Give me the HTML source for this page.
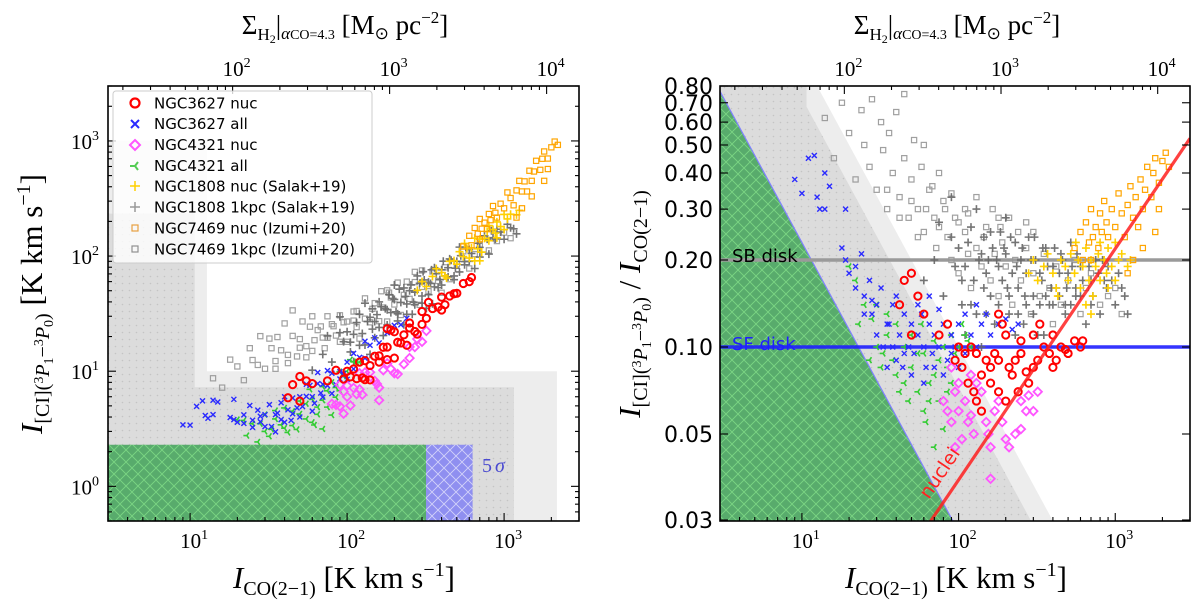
<!DOCTYPE html>
<html><head><meta charset="utf-8">
<style>
html,body{margin:0;padding:0;background:#fff;overflow:hidden;width:1200px;height:607px;}
svg{display:block;overflow:hidden;}
text{font-family:"Liberation Serif",serif;fill:#000;}
.sans{font-family:"DejaVu Sans","Liberation Sans",sans-serif;}
</style></head>
<body>
<svg id="fig" width="1200" height="607" viewBox="0 0 1200 607" xmlns="http://www.w3.org/2000/svg">
<defs>
<pattern id="hatchG" width="12" height="12" patternUnits="userSpaceOnUse">
<path d="M0,0 L12,12 M12,0 L0,12" stroke="#86e38a" stroke-width="0.9" opacity="0.75"/>
</pattern>
<pattern id="hatchB" width="12" height="12" patternUnits="userSpaceOnUse">
<path d="M0,0 L12,12 M12,0 L0,12" stroke="#ffffff" stroke-width="0.9" opacity="0.6"/>
</pattern>
<pattern id="dots" width="7" height="7" patternUnits="userSpaceOnUse">
<circle cx="3.5" cy="3.5" r="0.8" fill="#c4c4c4"/>
</pattern>
<clipPath id="clipL"><rect x="108" y="86" width="471" height="435"/></clipPath>
<clipPath id="clipR"><rect x="720" y="86" width="470" height="435"/></clipPath>
</defs>
<g id="layer"></g>

<g>
<text x="482" y="472" font-size="20" style="fill:#4a4ad0">5<tspan font-style="italic" dx="3">σ</tspan></text>
<text class="sans" x="732" y="262" font-size="18">SB disk</text>
<text class="sans" x="732" y="350" font-size="18" style="fill:#1f1fff">SF disk</text>
<text class="sans" font-size="19" transform="translate(929,500) rotate(-56)" style="fill:#ff2020">nuclei</text>
</g>

<g>
<rect x="113" y="91" width="259" height="172" rx="3" fill="#fff" fill-opacity="0.8" stroke="#cccccc"/>
<g><circle cx="135" cy="103" r="4.5" fill="none" stroke="#ff0000" stroke-width="2.2"/><text class="sans" x="154" y="108.5" font-size="15">NGC3627 nuc</text></g>
<g><path d="M131,120 L139,128 M139,120 L131,128" stroke="#2a2aff" stroke-width="2"/><text class="sans" x="154" y="129" font-size="15">NGC3627 all</text></g>
<g><path d="M135,140 L140,145 L135,150 L130,145 Z" fill="none" stroke="#ff55ff" stroke-width="2"/><text class="sans" x="154" y="150" font-size="15">NGC4321 nuc</text></g>
<g><path d="M135,166 L130,166 M135,166 L138,162 M135,166 L138,170" stroke="#55cc55" stroke-width="2"/><text class="sans" x="154" y="171" font-size="15">NGC4321 all</text></g>
<g><path d="M130,186 L140,186 M135,181 L135,191" stroke="#ffd000" stroke-width="1.5"/><text class="sans" x="154" y="191.5" font-size="15">NGC1808 nuc (Salak+19)</text></g>
<g><path d="M130,207 L140,207 M135,202 L135,212" stroke="#999" stroke-width="1.5"/><text class="sans" x="154" y="212.5" font-size="15">NGC1808 1kpc (Salak+19)</text></g>
<g><rect x="132" y="225" width="6" height="6" fill="none" stroke="#e8a040" stroke-width="1.2"/><text class="sans" x="154" y="233.5" font-size="15">NGC7469 nuc (Izumi+20)</text></g>
<g><rect x="132" y="246" width="6" height="6" fill="none" stroke="#909090" stroke-width="1.2"/><text class="sans" x="154" y="254.5" font-size="15">NGC7469 1kpc (Izumi+20)</text></g>
</g>

<g>
<text x="345" y="34" font-size="27" text-anchor="middle">Σ<tspan font-size="17" dy="6">H</tspan><tspan font-size="12" dy="3">2</tspan><tspan dy="-9">|</tspan><tspan font-size="17" font-style="italic" dy="5">α</tspan><tspan font-size="14">CO=4.3</tspan><tspan dy="-5"> [M</tspan><tspan font-size="17" dy="5">⊙</tspan><tspan dy="-5"> pc</tspan><tspan font-size="17" dy="-11">−2</tspan><tspan dy="11">]</tspan></text>
<text x="957" y="34" font-size="27" text-anchor="middle">Σ<tspan font-size="17" dy="6">H</tspan><tspan font-size="12" dy="3">2</tspan><tspan dy="-9">|</tspan><tspan font-size="17" font-style="italic" dy="5">α</tspan><tspan font-size="14">CO=4.3</tspan><tspan dy="-5"> [M</tspan><tspan font-size="17" dy="5">⊙</tspan><tspan dy="-5"> pc</tspan><tspan font-size="17" dy="-11">−2</tspan><tspan dy="11">]</tspan></text>
<text x="344" y="588" font-size="31" text-anchor="middle"><tspan font-style="italic">I</tspan><tspan font-size="20" dy="7">CO(2−1)</tspan><tspan dy="-7"> [K km s</tspan><tspan font-size="20" dy="-12">−1</tspan><tspan dy="12">]</tspan></text>
<text x="956" y="588" font-size="31" text-anchor="middle"><tspan font-style="italic">I</tspan><tspan font-size="20" dy="7">CO(2−1)</tspan><tspan dy="-7"> [K km s</tspan><tspan font-size="20" dy="-12">−1</tspan><tspan dy="12">]</tspan></text>
<text font-size="31" text-anchor="middle" transform="translate(42,304) rotate(-90)"><tspan font-style="italic">I</tspan><tspan font-size="20" dy="7">[CI](</tspan><tspan font-size="14" dy="-6">3</tspan><tspan font-size="20" font-style="italic" dy="6">P</tspan><tspan font-size="14" dy="4">1</tspan><tspan font-size="20" dy="-4">−</tspan><tspan font-size="14" dy="-6">3</tspan><tspan font-size="20" font-style="italic" dy="6">P</tspan><tspan font-size="14" dy="4">0</tspan><tspan font-size="20" dy="-4">)</tspan><tspan dy="-7"> [K km s</tspan><tspan font-size="20" dy="-12">−1</tspan><tspan dy="12">]</tspan></text>
<text font-size="31" text-anchor="middle" transform="translate(640,304) rotate(-90)"><tspan font-style="italic">I</tspan><tspan font-size="20" dy="7">[CI](</tspan><tspan font-size="14" dy="-6">3</tspan><tspan font-size="20" font-style="italic" dy="6">P</tspan><tspan font-size="14" dy="4">1</tspan><tspan font-size="20" dy="-4">−</tspan><tspan font-size="14" dy="-6">3</tspan><tspan font-size="20" font-style="italic" dy="6">P</tspan><tspan font-size="14" dy="4">0</tspan><tspan font-size="20" dy="-4">)</tspan><tspan dy="-7">  /  </tspan><tspan font-style="italic">I</tspan><tspan font-size="20" dy="7">CO(2−1)</tspan></text>
</g>
</svg>
<script>
// ---------- data (CO intensity [K km/s], CI/CO ratio) ----------
const n3627nucCO=[45,50,55,42,60,75,50,85,100,110,95,120,130,105,115,125,140,150,160,170,180,190,200,210,220,230,250,270,280,300,320,350,380,400,420,450,480,500,550,600,620,180,200,240,300,330,250,140,130,160,400,180];
const n3627nucR=[0.17,0.18,0.15,0.14,0.13,0.11,0.11,0.12,0.1,0.095,0.09,0.1,0.095,0.085,0.075,0.07,0.08,0.09,0.085,0.095,0.09,0.12,0.11,0.085,0.08,0.09,0.095,0.082,0.075,0.085,0.09,0.1,0.095,0.085,0.09,0.1,0.098,0.095,0.105,0.1,0.105,0.07,0.065,0.07,0.11,0.12,0.105,0.06,0.065,0.075,0.11,0.13];
const n3627allCO=[9,11,12,10,12.5,13,14,15,14,19,18,19,22,24,20,22,25,27,30,32,28,35,38,40,30,33,36,42,45,48,50,40,44,52,55,58,60,62,65,68,70,75,80,85,90,95,100,110,120,130,140,150,160,180,200,220,240,35,50,60,45,38,70,80,90,100,25,28,55,65,110,130,75];
const n3627allR=[0.38,0.45,0.46,0.34,0.33,0.3,0.4,0.36,0.3,0.3,0.22,0.2,0.19,0.21,0.18,0.16,0.15,0.17,0.14,0.16,0.13,0.12,0.14,0.15,0.11,0.1,0.12,0.11,0.13,0.1,0.12,0.09,0.085,0.095,0.11,0.13,0.1,0.085,0.12,0.095,0.11,0.1,0.12,0.09,0.11,0.1,0.12,0.095,0.11,0.1,0.12,0.13,0.11,0.12,0.125,0.115,0.12,0.085,0.08,0.075,0.095,0.1,0.085,0.08,0.095,0.085,0.13,0.145,0.14,0.15,0.13,0.14,0.135];
const n4321nucCO=[80,85,90,95,100,100,110,115,120,125,105,95,130,140,150,155,160,170,180,190,200,210,230,250,270,280,300,320,250,160,120,90];
const n4321nucR=[0.065,0.06,0.055,0.07,0.075,0.06,0.065,0.055,0.058,0.05,0.048,0.045,0.075,0.07,0.055,0.05,0.045,0.06,0.065,0.055,0.048,0.045,0.05,0.052,0.06,0.068,0.06,0.07,0.065,0.035,0.08,0.085];
const n4321allCO=[20,22,25,23,28,30,27,32,35,38,40,42,45,48,50,55,60,62,65,70,75,80,85,90,95,100,105,110,115,120,60,70,50,40,35,45,55,65,75,80,70,85,30,33,58,90];
const n4321allR=[0.19,0.17,0.14,0.12,0.125,0.1,0.09,0.085,0.11,0.09,0.08,0.07,0.075,0.065,0.085,0.07,0.06,0.055,0.075,0.08,0.09,0.1,0.085,0.11,0.095,0.1,0.12,0.11,0.105,0.1,0.095,0.105,0.11,0.12,0.13,0.1,0.095,0.065,0.065,0.052,0.045,0.07,0.14,0.095,0.12,0.075];
const n1808nucCO=[280,300,320,350,370,400,420,450,480,500,520,550,580,600,620,650,680,700,720,750,780,800,850,880,900,950,1000,1050,1100,1200,1250,650,700,430,560,800,900,1000];
const n1808nucR=[0.18,0.2,0.17,0.19,0.21,0.18,0.16,0.2,0.19,0.17,0.21,0.18,0.2,0.16,0.19,0.22,0.17,0.2,0.15,0.19,0.21,0.17,0.2,0.18,0.22,0.19,0.17,0.2,0.21,0.19,0.2,0.14,0.13,0.15,0.23,0.23,0.16,0.23];
const n1808kpcCO=[60,70,80,90,100,105,110,120,125,130,140,145,150,155,160,165,170,180,185,190,200,210,220,230,240,250,260,270,280,300,310,320,340,360,380,400,420,450,480,500,520,560,600,650,700,750,800,850,900,1000,1100,1200,130,90,75,140,230,350,200,110,
 95,105,115,135,145,160,175,195,205,215,235,255,265,290,305,330,345,370,390,410,440,460,490,530,570,620,680,720,780,830,880,950,1050,1150,120,150,180,210,240,270,300,330,360,400,440,480,520,560,600,700];
const n1808kpcR=[0.17,0.2,0.15,0.24,0.22,0.14,0.19,0.26,0.17,0.13,0.21,0.24,0.18,0.2,0.15,0.22,0.12,0.19,0.25,0.17,0.21,0.13,0.18,0.23,0.16,0.2,0.12,0.18,0.24,0.15,0.2,0.11,0.17,0.22,0.14,0.19,0.16,0.21,0.13,0.18,0.23,0.15,0.19,0.12,0.17,0.2,0.13,0.17,0.19,0.14,0.16,0.13,0.3,0.33,0.27,0.1,0.11,0.11,0.28,0.11,
 0.19,0.17,0.23,0.2,0.16,0.25,0.2,0.22,0.16,0.24,0.19,0.22,0.15,0.2,0.24,0.18,0.22,0.19,0.16,0.22,0.18,0.2,0.16,0.19,0.21,0.17,0.19,0.15,0.18,0.2,0.16,0.17,0.18,0.15,0.14,0.13,0.14,0.15,0.13,0.14,0.13,0.14,0.15,0.14,0.15,0.14,0.14,0.16,0.15,0.14];
const n7469nucCO=[550,600,620,650,680,700,720,750,780,800,820,850,880,900,950,1000,1050,1100,1150,1200,1250,1300,1350,1400,1450,1500,1550,1600,1700,1750,1800,1900,2000,2100,2200,1300,1500,1800,1900,1200,700];
const n7469nucR=[0.22,0.25,0.2,0.27,0.23,0.3,0.24,0.26,0.22,0.29,0.25,0.32,0.27,0.24,0.3,0.26,0.34,0.29,0.24,0.31,0.36,0.28,0.33,0.26,0.38,0.3,0.35,0.42,0.33,0.4,0.45,0.37,0.44,0.47,0.42,0.2,0.22,0.25,0.3,0.18,0.2];
const n7469kpcCO=[14,16,18,20,22,24,25,27,28,30,32,33,35,36,38,40,42,45,48,50,52,55,58,60,65,70,72,80,85,90,95,100,110,115,120,130,140,150,160,170,180,190,200,220,230,250,270,290,300,330,350,380,400,420,450,500,550,600,650,700,800,900,1000,1100,60,75,45,110,180,300,
 35,42,50,55,62,68,75,82,90,100,115,130,145,165,185,210,240,270];
const n7469kpcR=[0.62,0.45,0.7,0.55,0.38,0.66,0.5,0.42,0.72,0.35,0.6,0.48,0.3,0.55,0.4,0.65,0.33,0.45,0.28,0.38,0.52,0.3,0.42,0.25,0.35,0.28,0.22,0.32,0.24,0.2,0.28,0.18,0.25,0.21,0.16,0.22,0.19,0.26,0.17,0.21,0.15,0.23,0.19,0.14,0.2,0.17,0.22,0.13,0.18,0.15,0.21,0.16,0.12,0.19,0.14,0.17,0.2,0.13,0.16,0.18,0.14,0.15,0.16,0.13,0.5,0.4,0.75,0.3,0.28,0.25,
 0.35,0.28,0.32,0.24,0.3,0.36,0.26,0.3,0.34,0.27,0.29,0.33,0.24,0.3,0.26,0.28,0.25,0.27];
const lightRegions=[[1,2170,10],[1,12.8,1000]];
const darkRegions=[[1,1156,7.26],[1,10.7,234]];
const greenRegion=[1,318,2.3];
const blueRegion=[318,630,2.3];
const sbDiskRatio=0.2, sfDiskRatio=0.1;
const nucleiNorm=0.527, nucleiPivot=3000, nucleiSlope=0.8;
const xMajor=[10,100,1000];
const xMajorLabels=["1","2","3"];
const yLMajor=[1,10,100,1000];
const yLMajorLabels=["0","1","2","3"];
const sigmaMajor=[100,1000,10000];
const sigmaLabels=["2","3","4"];
const sigmaPerCO=5.36;
const yRMajor=[0.8,0.7,0.6,0.5,0.4,0.3,0.2,0.1,0.05,0.0252];
const yRLabels=["0.80","0.70","0.60","0.50","0.40","0.30","0.20","0.10","0.05","0.03"];

const CO_MIN=3,CO_MAX=3000,CI_MIN=0.5,CI_MAX=3000,R_MIN=0.025,R_MAX=0.8;
const PL={x0:108,x1:579,y0:86,y1:521}, PR={x0:720,x1:1190,y0:86,y1:521};
const L10=Math.log10;
function sx(p,x){return p.x0+(L10(x)-L10(CO_MIN))/L10(CO_MAX/CO_MIN)*(p.x1-p.x0);}
function syL(v){return PL.y0+(L10(CI_MAX)-L10(v))/L10(CI_MAX/CI_MIN)*(PL.y1-PL.y0);}
function syR(v){return PR.y0+(L10(R_MAX)-L10(v))/L10(R_MAX/R_MIN)*(PR.y1-PR.y0);}

const NS="http://www.w3.org/2000/svg";
const layer=document.getElementById('layer');
function mk(tag,attrs,parent){const e=document.createElementNS(NS,tag);for(const k in attrs)e.setAttribute(k,attrs[k]);(parent||layer).appendChild(e);return e;}

const gL=mk('g',{'clip-path':'url(#clipL)'});


const gR=mk('g',{'clip-path':'url(#clipR)'});



function regionPts(panel,reg){
  const [x0,x1,yt]=reg, yb=0.001;
  if(panel==='L'){
    return [[sx(PL,x0),syL(yb)],[sx(PL,x0),syL(yt)],[sx(PL,x1),syL(yt)],[sx(PL,x1),syL(yb)]];
  }
  return [[sx(PR,x0),syR(yb/x0)],[sx(PR,x0),syR(yt/x0)],[sx(PR,x1),syR(yt/x1)],[sx(PR,x1),syR(yb/x1)]];
}
function drawRegion(panel,reg,fill,overlay,name){
  const g=panel==='L'?gL:gR;
  const pts=regionPts(panel,reg).map(p=>p[0].toFixed(1)+','+p[1].toFixed(1)).join(' ');
  const e=mk('polygon',{points:pts,fill:fill},g);
  
  
  if(overlay){
    const o=mk('polygon',{points:pts,fill:overlay},g);
    
    
  }
}
['L','R'].forEach(pn=>{
  lightRegions.forEach(r=>drawRegion(pn,r,'#ededed',null,'light-gray-limit-region'));
  darkRegions.forEach(r=>drawRegion(pn,r,'#dcdcdc','url(#dots)','gray-limit-region'));
  drawRegion(pn,blueRegion,'#8f8ff0','url(#hatchB)','blue-5sigma-region');
  drawRegion(pn,greenRegion,'#58ab6c','url(#hatchG)','green-5sigma-region');
});
(function(){
  const x0=CO_MIN, x1=greenRegion[1];
  const e=mk('line',{x1:sx(PR,x0),y1:syR(greenRegion[2]/x0),x2:sx(PR,x1),y2:syR(greenRegion[2]/x1),stroke:'#8080ff','stroke-width':1.2},gR);
  
  
})();

(function(){
  const sb=mk('line',{x1:PR.x0,x2:PR.x1,y1:syR(sbDiskRatio),y2:syR(sbDiskRatio),stroke:'#9a9a9a','stroke-width':3.5},gR);
  
  
  const sf=mk('line',{x1:PR.x0,x2:PR.x1,y1:syR(sfDiskRatio),y2:syR(sfDiskRatio),stroke:'#1f1fff','stroke-width':3.5,opacity:0.9},gR);
  
  
})();

function marker(g,shape,x,y,color){
  let e;
  if(shape==='circle') e=mk('circle',{cx:x,cy:y,r:3.6,fill:'none',stroke:color,'stroke-width':2},g);
  else if(shape==='x') e=mk('path',{d:`M${x-2.5},${y-2.5}L${x+2.5},${y+2.5}M${x+2.5},${y-2.5}L${x-2.5},${y+2.5}`,stroke:color,'stroke-width':1.4},g);
  else if(shape==='diamond') e=mk('path',{d:`M${x},${y-4.2}L${x+4.2},${y}L${x},${y+4.2}L${x-4.2},${y}Z`,fill:'none',stroke:color,'stroke-width':1.8},g);
  else if(shape==='tri') e=mk('path',{d:`M${x},${y}L${x-3.5},${y}M${x},${y}L${x+2},${y-3}M${x},${y}L${x+2},${y+3}`,stroke:color,'stroke-width':1.6},g);
  else if(shape==='plus') e=mk('path',{d:`M${x-4},${y}L${x+4},${y}M${x},${y-4}L${x},${y+4}`,stroke:color,'stroke-width':1.6},g);
  else e=mk('rect',{x:x-2.6,y:y-2.6,width:5.2,height:5.2,fill:'none',stroke:color,'stroke-width':1.2},g);
  return e;
}
function drawSeries(co,r,shape,color,name,op){
  const gl=mk('g',{opacity:op},gL);
  
  
  const gr=mk('g',{opacity:op},gR);
  
  
  for(let i=0;i<co.length;i++){
    const a=marker(gl,shape,sx(PL,co[i]),syL(co[i]*r[i]),color);
    
    
    const b=marker(gr,shape,sx(PR,co[i]),syR(r[i]),color);
    
    
  }
}
drawSeries(n7469kpcCO,n7469kpcR,'square','#969696','ngc7469-1kpc',0.9);
drawSeries(n1808kpcCO,n1808kpcR,'plus','#666666','ngc1808-1kpc',0.9);
drawSeries(n1808nucCO,n1808nucR,'plus','#ffd000','ngc1808-nuc',1);
drawSeries(n7469nucCO,n7469nucR,'square','#ffa500','ngc7469-nuc',1);
drawSeries(n4321allCO,n4321allR,'tri','#33cc33','ngc4321-all',1);
drawSeries(n3627allCO,n3627allR,'x','#2a2aff','ngc3627-all',1);
drawSeries(n4321nucCO,n4321nucR,'diamond','#ff55ff','ngc4321-nuc',1);
drawSeries(n3627nucCO,n3627nucR,'circle','#ff0000','ngc3627-nuc',1);

(function(){
  const f=x=>nucleiNorm*Math.pow(x/nucleiPivot,nucleiSlope);
  const e=mk('line',{x1:sx(PR,CO_MIN),y1:syR(f(CO_MIN)),x2:sx(PR,CO_MAX),y2:syR(f(CO_MAX)),stroke:'#ff2020','stroke-width':3.2,opacity:0.85},gR);
  
  
})();

function frame(p,name){
  const e=mk('rect',{x:p.x0,y:p.y0,width:p.x1-p.x0,height:p.y1-p.y0,fill:'none',stroke:'#000','stroke-width':1.6});
  
  
}
frame(PL,'left-frame');frame(PR,'right-frame');
function tick(x1,y1,x2,y2,name){
  const e=mk('line',{x1:x1,y1:y1,x2:x2,y2:y2,stroke:'#000','stroke-width':1.1});
  
  
}
function powLabel(x,y,exp,anchor,name){
  const t=mk('text',{x:x,y:y,'font-size':21,'text-anchor':anchor});
  
  
  t.innerHTML='10<tspan font-size="14" dy="-9">'+exp+'</tspan>';
}
[PL,PR].forEach((p,pi)=>{
  const side=pi?'right':'left';
  for(let d=1;d<=1000;d*=10){for(let m=1;m<10;m++){const v=d*m;if(v<CO_MIN||v>CO_MAX)continue;const X=sx(p,v);const len=m===1?8:4;
    tick(X,p.y1,X,p.y1-len,side+'-x-tick');}}
  xMajor.forEach((v,i)=>powLabel(sx(p,v)+4,548,xMajorLabels[i],'middle',side+'-x-tick-label'));
  for(let d=10;d<=10000;d*=10){for(let m=1;m<10;m++){const v=d*m;const c=v/sigmaPerCO;if(c<CO_MIN||c>CO_MAX)continue;const X=sx(p,c);const len=m===1?8:4;
    tick(X,p.y0,X,p.y0+len,side+'-top-tick');}}
  sigmaMajor.forEach((v,i)=>powLabel(sx(p,v/sigmaPerCO)+4,76,sigmaLabels[i],'middle',side+'-top-tick-label'));
});
for(let d=0.1;d<=1000;d*=10){for(let m=1;m<10;m++){const v=d*m;if(v<CI_MIN||v>CI_MAX)continue;const Y=syL(v);const len=m===1?8:4;
  tick(PL.x0,Y,PL.x0+len,Y,'left-y-tick');tick(PL.x1,Y,PL.x1-len,Y,'left-y-tick');}}
yLMajor.forEach((v,i)=>powLabel(99,syL(v)+8,yLMajorLabels[i],'end','left-y-tick-label'));
yRMajor.forEach((v,i)=>{const Y=syR(v);tick(PR.x0,Y,PR.x0+8,Y,'right-y-tick');tick(PR.x1,Y,PR.x1-8,Y,'right-y-tick');
  const t=mk('text',{x:713,y:Y+8,'font-size':22,'text-anchor':'end','class':'sans'});
  
  
  t.textContent=yRLabels[i];});
</script>
</body></html>
